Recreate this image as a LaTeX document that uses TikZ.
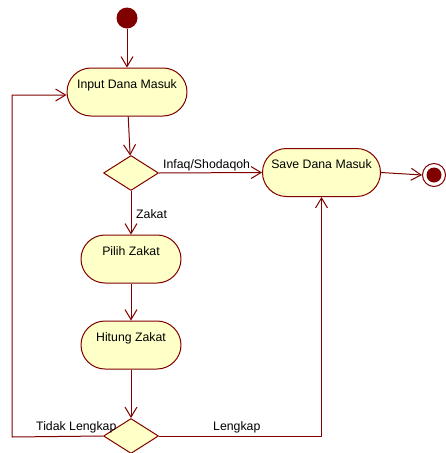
\documentclass[tikz,border=0pt]{standalone}
\usepackage{fontspec}
\setmainfont{Liberation Sans}
\usetikzlibrary{arrows.meta,shapes.geometric}
\definecolor{umlred}{RGB}{128,0,0}
\definecolor{umlfill}{RGB}{255,255,200}
\tikzset{
	activity/.style={draw=umlred,fill=umlfill,line width=1pt,rounded corners=24pt,
		minimum width=#1,inner xsep=0pt,inner ysep=0pt,text height=20pt,text depth=28pt},
	decision/.style={draw=umlred,fill=umlfill,line width=1pt,diamond,aspect=1.571,
		minimum width=55pt,minimum height=35pt,inner sep=0pt},
	guard/.style={inner sep=0pt,anchor=base west},
	flow/.style={draw=umlred,line width=1pt,-{Straight Barb[length=10pt,width=12pt]}}
}
\begin{document}
\begin{tikzpicture}[x=1pt,y=-1pt,line join=round,font=\fontsize{12.3}{14}\selectfont]
	%==khung
	\useasboundingbox (0,0) rectangle (446,453);
	%==nut
	\node[circle,fill=umlred,minimum size=21pt,inner sep=0pt] (start) at (127,18) {};
	\node[activity=120pt] (input) at (127,92) {Input Dana Masuk};
	\node[decision] (d1) at (131,173) {};
	\node[activity=118pt] (save) at (321.5,172.5) {Save Dana Masuk};
	\node[activity=100pt] (pilih) at (131,259) {Pilih Zakat};
	\node[activity=100pt] (hitung) at (131,345) {Hitung Zakat};
	\node[decision] (d2) at (131,436) {};
	\node[circle,draw=umlred,fill=white,line width=1pt,minimum size=23pt,inner sep=0pt] (end) at (434,175) {};
	\node[circle,fill=umlred,minimum size=15pt,inner sep=0pt] (endin) at (end.center) {};
	\coordinate (lp) at (12,437);
	%==canh
	\draw[flow] (start) -- (input);
	\draw[flow] (input) -- (d1);
	\draw[flow] (d1.east) -- (save.west);
	\draw[flow] (save.east) -- (end.west);
	\draw[flow] (d1.south) -- (pilih);
	\draw[flow] (pilih) -- (hitung);
	\draw[flow] (hitung) -- (d2);
	\draw[flow] (d2.west) -- (lp) |- ([yshift=-3pt]input.west);
	\draw[flow] (d2.east) -| (save.south);
	%==nhan
	\node[guard] (linfaq) at (163,168) {Infaq/Shodaqoh};
	\node[guard] (lzakat) at (136,218) {Zakat};
	\node[guard] (ltidak) at (36,430) {Tidak Lengkap};
	\node[guard] (llengkap) at (213,430) {Lengkap};
\end{tikzpicture}
\end{document}
